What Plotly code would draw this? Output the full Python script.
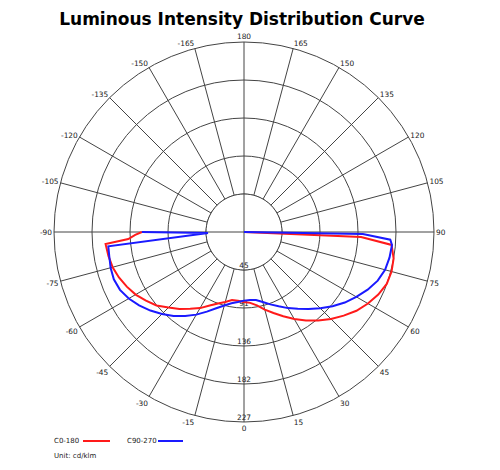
import plotly.graph_objects as go

# C0-180 plane (red): right half = C0, left half = C180 (negative angles)
c0_angles = [0, 5, 10, 15, 20, 25, 30, 35, 40, 45, 50, 55, 60, 65, 70, 75, 80, 85, 87.5, 90]
c0_values = [83.5, 85, 89, 96, 103, 111, 120, 129, 138, 147, 155.5, 164, 171, 177, 181.5, 182.5, 181.5, 177, 140, 0]
c180_angles = [0, -5, -10, -15, -20, -25, -30, -35, -40, -45, -50, -55, -60, -65, -70, -75, -80, -85, -86.5, -88.5, -90]
c180_values = [83.5, 82.5, 82.5, 86.5, 91, 97, 105, 112, 120, 127.5, 136.5, 143, 149.5, 154.5, 159, 162.5, 164.5, 166, 138.5, 130, 122]

# C90-270 plane (blue): right half = C90, left half = C270
c90_angles = [0, 5, 10, 15, 20, 25, 30, 35, 40, 45, 50, 55, 60, 65, 70, 75, 80, 85, 87, 89, 90]
c90_values = [82, 81.5, 82.5, 86.5, 92, 98, 105, 112, 120, 129, 138, 147, 155, 163, 170, 174.5, 176.5, 177.5, 175, 142, 0]
c270_angles = [0, -5, -10, -15, -20, -25, -30, -35, -40, -45, -50, -55, -60, -65, -70, -75, -80, -84, -88.5, -90]
c270_values = [82, 84, 86.5, 91, 97, 105, 114, 122.5, 131, 138.5, 146, 153, 159, 163.5, 165.5, 165, 163.5, 163, 43, 122]

radial_ticks = [45.4, 90.8, 136.2, 181.6, 227]
radial_labels = ["45", "91", "136", "182", "227"]
angle_ticks = list(range(0, 360, 15))
angle_labels = [str(a) if a <= 180 else str(a - 360) for a in angle_ticks]

W, H = 500, 470
GRID = "#444444"
FONT = "DejaVu Sans"
SMALL = 7.4
RED = "#ff1a1a"
BLUE = "#1a1aff"

# page body adds 8px, so target pixel positions are shifted back by 8
cx, cy, rad = 236, 224, 190

fig = go.Figure()

# white disk hides the spokes inside the first ring
fig.add_trace(go.Scatterpolar(
    r=[radial_ticks[0]] * 73, theta=list(range(0, 361, 5)),
    mode="lines", fill="toself", fillcolor="white",
    line=dict(color=GRID, width=1), hoverinfo="skip", showlegend=False))
# cross-hair through the centre
for a in (0, 90):
    fig.add_trace(go.Scatterpolar(
        r=[radial_ticks[0], 0, radial_ticks[0]], theta=[a, a, a + 180],
        mode="lines", line=dict(color=GRID, width=1),
        hoverinfo="skip", showlegend=False))

# radial tick labels along the 0 degree spoke
fig.add_trace(go.Scatterpolar(
    r=radial_ticks, theta=[0] * len(radial_ticks), mode="text",
    text=radial_labels, textposition="top center",
    textfont=dict(family=FONT, size=SMALL, color="#222222"),
    hoverinfo="skip", showlegend=False))

fig.add_trace(go.Scatterpolar(
    r=c180_values[::-1] + c0_values, theta=c180_angles[::-1] + c0_angles,
    mode="lines", name="C0-180", line=dict(color=RED, width=2)))
fig.add_trace(go.Scatterpolar(
    r=c270_values[::-1] + c90_values, theta=c270_angles[::-1] + c90_angles,
    mode="lines", name="C90-270", line=dict(color=BLUE, width=2)))

fig.update_layout(
    width=W, height=H,
    margin=dict(l=0, r=0, t=0, b=0),
    paper_bgcolor="white",
    showlegend=False,
    font=dict(family=FONT, size=SMALL, color="#222222"),
    title=dict(text="<b>Luminous Intensity Distribution Curve</b>",
               x=234 / W, xanchor="center", y=1 - 5 / H, yanchor="top", yref="container",
               pad=dict(t=0, b=0, l=0, r=0),
               font=dict(family=FONT, size=17, color="black")),
    polar=dict(
        domain=dict(x=[(cx - rad) / W, (cx + rad) / W],
                    y=[(H - cy - rad) / H, (H - cy + rad) / H]),
        bgcolor="white",
        radialaxis=dict(range=[0, 227], tickvals=radial_ticks,
                        showticklabels=False, ticks="", showline=False,
                        gridcolor=GRID, gridwidth=1),
        angularaxis=dict(rotation=-90, direction="counterclockwise",
                         tickvals=angle_ticks, ticktext=angle_labels,
                         ticks="", showline=True, linecolor=GRID, linewidth=1,
                         gridcolor=GRID, gridwidth=1,
                         tickfont=dict(family=FONT, size=SMALL, color="#222222")),
    ),
)

# legend drawn by hand: label first, then line sample
legend_y = (H - 433) / H
for label, x in (("C0-180", 44), ("C90-270", 117)):
    fig.add_annotation(x=x / W, y=legend_y, xref="paper", yref="paper", text=label,
                       font=dict(size=7), showarrow=False, xanchor="left", yanchor="middle")
fig.add_annotation(x=44 / W, y=(H - 448) / H, xref="paper", yref="paper",
                   text="Unit: cd/klm", font=dict(size=7),
                   showarrow=False, xanchor="left", yanchor="middle")
fig.add_shape(type="line", xref="paper", yref="paper",
              x0=75 / W, x1=102 / W, y0=legend_y, y1=legend_y,
              line=dict(color=RED, width=2))
fig.add_shape(type="line", xref="paper", yref="paper",
              x0=150 / W, x1=175 / W, y0=legend_y, y1=legend_y,
              line=dict(color=BLUE, width=2))

fig.write_html("out.html")
